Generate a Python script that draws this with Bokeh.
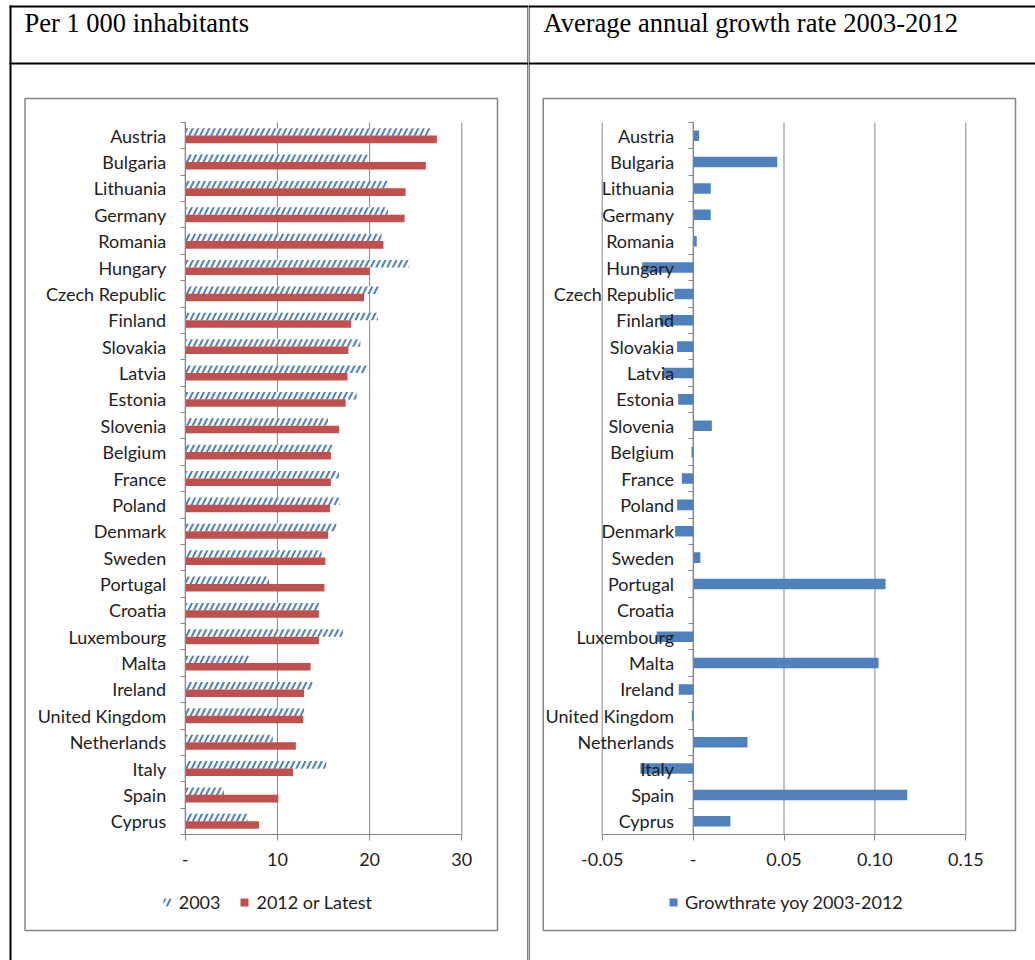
from bokeh.plotting import figure
from bokeh.layouts import row
from bokeh.models import (Range1d, FixedTicker, BoxAnnotation, Label, Legend,
                          LegendItem, ColumnDataSource)
from bokeh.embed import file_html
from bokeh.resources import INLINE

# ---------------- data ----------------
countries = ["Austria", "Bulgaria", "Lithuania", "Germany", "Romania", "Hungary",
             "Czech Republic", "Finland", "Slovakia", "Latvia", "Estonia", "Slovenia",
             "Belgium", "France", "Poland", "Denmark", "Sweden", "Portugal", "Croatia",
             "Luxembourg", "Malta", "Ireland", "United Kingdom", "Netherlands", "Italy",
             "Spain", "Cyprus"]
v2003 = [26.6, 19.8, 22.0, 22.0, 21.3, 24.3, 21.0, 20.9, 19.0, 19.7, 18.6, 15.5,
         16.0, 16.7, 16.8, 16.4, 14.8, 9.1, 14.5, 17.1, 6.9, 13.8, 12.9, 9.5, 15.3,
         4.2, 6.8]
v2012 = [27.3, 26.1, 23.9, 23.8, 21.5, 20.0, 19.4, 18.0, 17.7, 17.6, 17.4, 16.7,
         15.8, 15.8, 15.7, 15.5, 15.2, 15.1, 14.5, 14.5, 13.6, 12.9, 12.8, 12.0, 11.7,
         10.1, 8.0]
growth = [0.0033, 0.0463, 0.0097, 0.0097, 0.0020, -0.0280, -0.0103, -0.0183, -0.0088,
          -0.0165, -0.0082, 0.0103, -0.0009, -0.0062, -0.0088, -0.0099, 0.0040, 0.1059,
          0.0, -0.0200, 0.1020, -0.0079, -0.0007, 0.0299, -0.0290, 0.1178, 0.0205]
left_ticks = [0, 10, 20, 30]
left_tick_labels = ["-", "10", "20", "30"]
right_ticks = [-0.05, 0, 0.05, 0.10, 0.15]
right_tick_labels = ["-0.05", "-", "0.05", "0.10", "0.15"]
left_title = "Per 1 000 inhabitants"
right_title = "Average annual growth rate 2003-2012"
series_names = ["2003", "2012 or Latest"]
growth_name = "Growthrate yoy 2003-2012"

# ---------------- style / layout ----------------
FONT = "Lato"
FS = "18px"
TXT = "#1e1e1e"
GRAY = "#868686"
RED = "#C0504D"
BLUE = "#4F81BD"
BAR2 = 1 / 3.5
OFF = 0.14
W1, W2, H = 528, 507, 960
PLOT_TOP, PLOT_BOTTOM = 122.0, 834.0

n = len(countries)
centers = [i + 0.5 for i in range(n)]
bounds = list(range(n + 1))

# vertical range so that category 0 edge sits at PLOT_TOP and n at PLOT_BOTTOM
py = (PLOT_BOTTOM - PLOT_TOP) / n
y_rng = (n + (H - PLOT_BOTTOM) / py, -PLOT_TOP / py)


def x_range_for(width, lo, hi, px_lo, px_hi):
    s = (px_hi - px_lo) / (hi - lo)
    return Range1d(lo - px_lo / s, hi + (width - px_hi) / s)


src = ColumnDataSource(dict(
    country=countries, c=centers,
    y03=[c - OFF for c in centers], y12=[c + OFF for c in centers],
    v03=v2003, v12=v2012, g=growth))


def canvas_box(p, l, r, t, b, fill=None, line=None, lw=1.0):
    p.add_layout(BoxAnnotation(left=l, right=r, top=t, bottom=b,
                               left_units="canvas", right_units="canvas",
                               top_units="canvas", bottom_units="canvas",
                               fill_color=fill if fill else "white",
                               fill_alpha=1 if fill else 0,
                               line_color=line if line else "black",
                               line_alpha=1 if line else 0,
                               line_width=lw, level="overlay"))


def make_fig(width, xr, ticks, tick_labels):
    p = figure(width=width, height=H, x_range=xr, y_range=Range1d(*y_rng),
               output_backend="svg", toolbar_location=None, min_border=0,
               min_border_left=0, min_border_right=0, min_border_top=0,
               min_border_bottom=0)
    p.title.visible = False
    p.outline_line_color = None
    p.background_fill_color = "white"
    p.border_fill_color = "white"
    p.xgrid.visible = False
    p.ygrid.visible = False
    for ax in (p.xaxis[0], p.yaxis[0]):
        ax.axis_line_color = GRAY
        ax.axis_line_width = 1
        ax.major_label_text_font = FONT
        ax.major_label_text_font_size = FS
        ax.major_label_text_color = TXT
        ax.major_tick_line_color = GRAY
        ax.minor_tick_line_color = GRAY
    xa = p.xaxis[0]
    xa.fixed_location = n
    xa.bounds = (ticks[0], ticks[-1])
    xa.ticker = FixedTicker(ticks=ticks)
    xa.major_label_overrides = dict(zip(ticks, tick_labels))
    xa.major_tick_out = 6
    xa.major_tick_in = 0
    xa.minor_tick_out = 0
    xa.minor_tick_in = 0
    xa.major_label_standoff = 12
    ya = p.yaxis[0]
    ya.fixed_location = 0
    ya.bounds = (0, n)
    ya.ticker = FixedTicker(ticks=centers, minor_ticks=bounds)
    ya.major_label_overrides = dict(zip(centers, countries))
    ya.major_tick_out = 0
    ya.major_tick_in = 0
    ya.major_tick_line_color = None
    ya.minor_tick_out = 5
    ya.minor_tick_in = 0
    ya.major_label_standoff = 14
    # vertical gridlines limited to the plot area
    p.segment(x0=ticks, y0=[0] * len(ticks), x1=ticks, y1=[n] * len(ticks),
              line_color=GRAY, line_width=1, level="underlay")
    return p


def legend(p, items, loc):
    lg = Legend(items=items, location=loc, orientation="horizontal",
                glyph_width=10, glyph_height=10, label_standoff=7, spacing=19,
                padding=0, margin=0, border_line_alpha=0, background_fill_alpha=0,
                label_text_font=FONT, label_text_font_size=FS, label_text_color=TXT,
                label_height=12)
    p.add_layout(lg)


# ---------------- left chart ----------------
p1 = make_fig(W1, x_range_for(W1, 0, 30, 184.7, 461.3), left_ticks, left_tick_labels)
r03 = p1.hbar(y="y03", left=0, right="v03", height=BAR2, source=src,
              fill_color="white", line_color=None, hatch_pattern="/",
              hatch_color=BLUE, hatch_scale=11, hatch_weight=2)
r12 = p1.hbar(y="y12", left=0, right="v12", height=BAR2, source=src,
              fill_color=RED, line_color=None)
legend(p1, [LegendItem(label=series_names[0], renderers=[r03]),
            LegendItem(label=series_names[1], renderers=[r12])], (161.7, 47))

canvas_box(p1, 9, 528, 5, 7, fill="black")
canvas_box(p1, 9, 528, 62, 64, fill="black")
canvas_box(p1, 9, 11, 5, 960, fill="black")
canvas_box(p1, 527, 528, 5, 960, fill="black")
canvas_box(p1, 24.5, 497, 98, 930, line=GRAY, lw=1.5)
p1.add_layout(Label(x=24, y=22, x_units="canvas", y_units="canvas", text=left_title,
                    text_font="Liberation Serif", text_font_size="26.5px",
                    text_color="black", text_baseline="alphabetic"))

# ---------------- right chart ----------------
p2 = make_fig(W2, x_range_for(W2, -0.05, 0.15, 601.7 - W1, 965.3 - W1),
              right_ticks, right_tick_labels)
rg = p2.hbar(y="c", left=0, right="g", height=0.4, source=src,
             fill_color=BLUE, line_color=None)
legend(p2, [LegendItem(label=growth_name, renderers=[rg])], (668 - W1, 47))

canvas_box(p2, 0, 507, 5, 7, fill="black")
canvas_box(p2, 0, 507, 62, 64, fill="black")
canvas_box(p2, 0, 1, 5, 960, fill="black")
canvas_box(p2, 542.7 - W1, 1015 - W1, 98, 930, line=GRAY, lw=1.5)
p2.add_layout(Label(x=543 - W1, y=22, x_units="canvas", y_units="canvas",
                    text=right_title, text_font="Liberation Serif",
                    text_font_size="26.5px", text_color="black",
                    text_baseline="alphabetic"))

layout = row(p1, p2, spacing=0)
open("out.html", "w").write(file_html(layout, INLINE))
